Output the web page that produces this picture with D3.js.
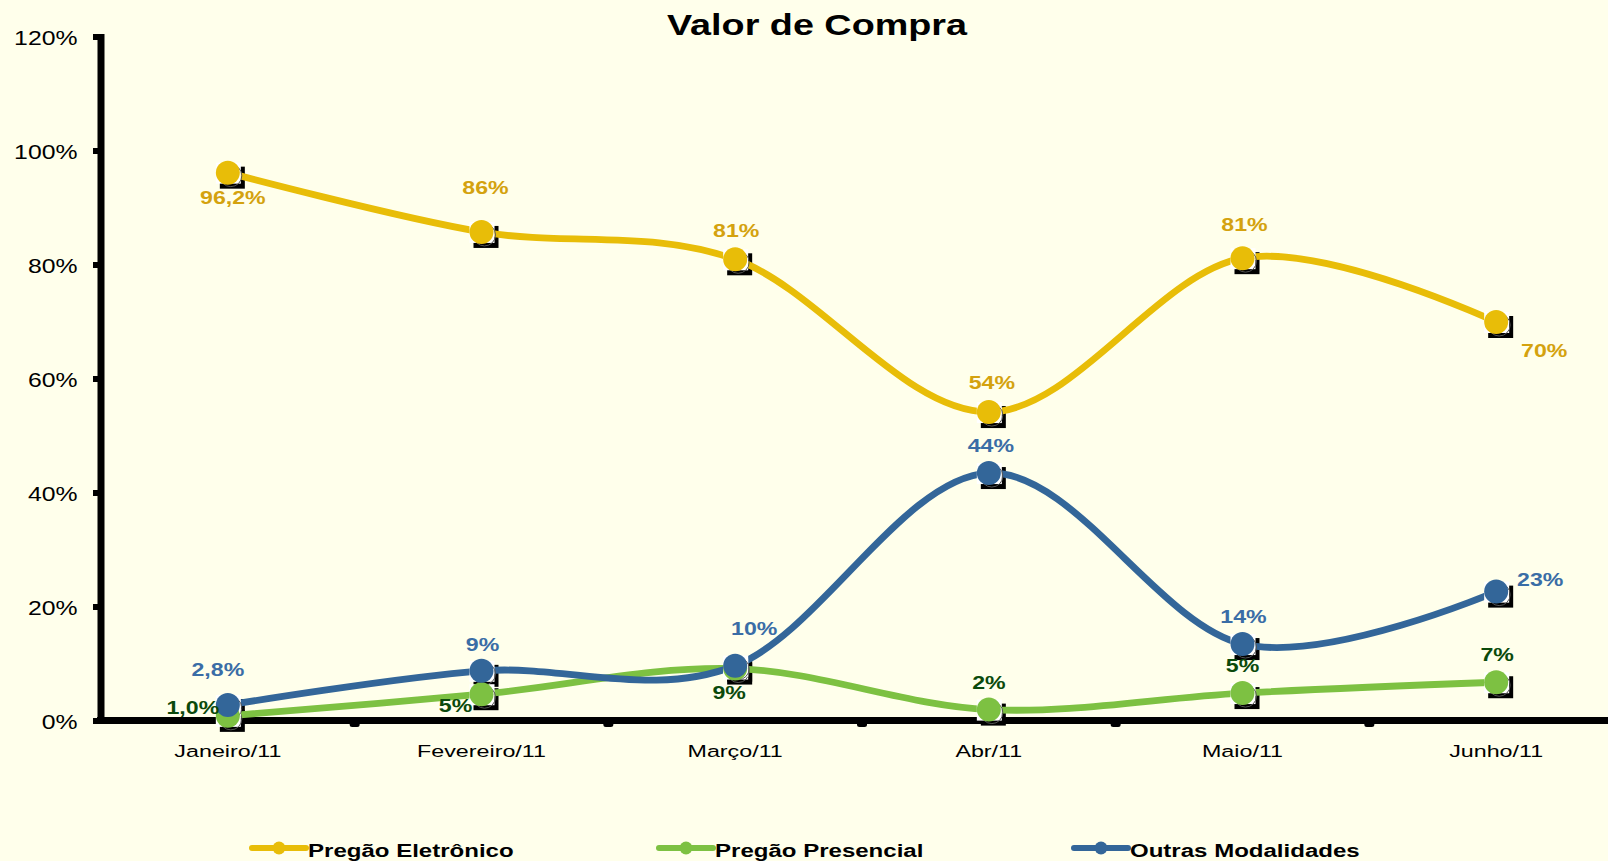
<!DOCTYPE html>
<html><head><meta charset="utf-8">
<script src="https://cdn.jsdelivr.net/npm/d3@7"></script>
<style>html,body{margin:0;padding:0;background:#FFFFEB;overflow:hidden}</style>
</head><body><svg id="c" width="1608" height="861"></svg>
<script>
// ---------- data ----------
const title = "Valor de Compra";
const categories = ["Janeiro/11","Fevereiro/11","Março/11","Abr/11","Maio/11","Junho/11"];
const seriesNames = ["Pregão Eletrônico","Pregão Presencial","Outras Modalidades"];
const eletronico = [96.2, 85.8, 81, 54.2, 81.2, 70];
const presencial = [0.9, 4.7, 9.2, 2.0, 4.9, 6.8];
const outras = [2.8, 8.8, 9.7, 43.5, 13.5, 22.7];
const eletronicoLabels = ["96,2%","86%","81%","54%","81%","70%"];
const presencialLabels = ["1,0%","5%","9%","2%","5%","7%"];
const outrasLabels = ["2,8%","9%","10%","44%","14%","23%"];
const yTicks = [0,20,40,60,80,100,120];

// ---------- layout / style ----------
const FONT = "'Liberation Sans', Arial, sans-serif";
const SX = 1.3; // horizontal text stretch of the original
const colors = {line:["#E8BD08","#7DC142","#336699"], label:["#D4A20E","#0B4A0B","#3A6DA6"]};
const labelOffsets = [
  [[5,25],[4,-44],[1,-29],[3,-30],[2,-34],[48,28]],
  [[-35,-8],[-26,11],[-6,24],[0,-27],[0,-28],[1,-28]],
  [[-10,-36],[1,-26],[19,-37],[2,-28],[1,-28],[44,-12]]
];
const legendX = [252, 659, 1074];

const svg = d3.select("#c");
svg.append("rect").attr("width",1608).attr("height",861).attr("fill","#FFFFEB");

const x = d3.scaleBand().domain(categories).range([101, 1623]);
const y = d3.scaleLinear().domain([0,120]).range([721, 37]);
const cx = c => x(c) + x.bandwidth()/2;

function stext(g, str, px, py, o) {
  return g.append("text")
    .attr("transform", `translate(${px},${py}) scale(${o.sx||SX},1)`)
    .attr("text-anchor", o.anchor||"middle")
    .attr("font-family", FONT)
    .attr("font-size", o.size)
    .attr("font-weight", o.weight||"normal")
    .attr("fill", o.fill||"#000")
    .text(str);
}

// title
stext(svg, title, 817, 35, {size:29.5, weight:"bold", sx:1.28});

// axes
const ax = svg.append("g");
ax.append("line").attr("x1",101).attr("x2",101).attr("y1",y(120)-3).attr("y2",724)
  .attr("stroke","#000").attr("stroke-width",7);
ax.append("line").attr("x1",97).attr("x2",1608).attr("y1",720.5).attr("y2",720.5)
  .attr("stroke","#000").attr("stroke-width",7);
yTicks.forEach(t=>{
  ax.append("rect").attr("x",93).attr("y",y(t)-3).attr("width",8).attr("height",6).attr("fill","#000");
  stext(ax, t+"%", 77.5, y(t)+7.5, {size:20, anchor:"end", sx:1.24});
});
categories.forEach((c,i)=>{
  if(i>0){
    ax.append("rect").attr("x",x(c)-5).attr("y",721).attr("width",10).attr("height",6)
      .attr("rx",2.5).attr("fill","#000");
  }
  stext(ax, c, cx(c), 757, {size:17, sx:1.37});
});

// series
const allSeries = [eletronico, presencial, outras];
const allLabels = [eletronicoLabels, presencialLabels, outrasLabels];
const line = d3.line().x((d,i)=>cx(categories[i])).y(d=>y(d)).curve(d3.curveCardinal.tension(0));

const gShadow = svg.append("g"), gLines = svg.append("g"), gWhite = svg.append("g"),
      gMarks = svg.append("g"), gLabels = svg.append("g");

allSeries.forEach((vals,s)=>{
  gLines.append("path").attr("d", line(vals)).attr("fill","none")
    .attr("stroke", colors.line[s]).attr("stroke-width",6.8).attr("stroke-linecap","round");
  vals.forEach((v,i)=>{
    const px = cx(categories[i]), py = y(v);
    gShadow.append("rect").attr("x",px-8).attr("y",py-6).attr("width",25).attr("height",22).attr("fill","#000");
    gWhite.append("rect").attr("x",px-12).attr("y",py-10).attr("width",25).attr("height",21).attr("fill","#FFFFFF");
    gWhite.append("circle").attr("cx",px+3).attr("cy",py+3).attr("r",11).attr("fill","none")
      .attr("stroke","#555").attr("stroke-width",1);
    gMarks.append("circle").attr("cx",px).attr("cy",py).attr("r",12).attr("fill",colors.line[s]);
    const off = labelOffsets[s][i];
    stext(gLabels, allLabels[s][i], px+off[0], py+off[1]+6.5, {size:18.5, weight:"bold", fill:colors.label[s], sx:1.25});
  });
});

// legend
const lg = svg.append("g");
seriesNames.forEach((n,s)=>{
  const lx = legendX[s];
  lg.append("line").attr("x1",lx).attr("x2",lx+54).attr("y1",848).attr("y2",848)
    .attr("stroke",colors.line[s]).attr("stroke-width",6).attr("stroke-linecap","round");
  lg.append("circle").attr("cx",lx+27).attr("cy",848).attr("r",6.5).attr("fill",colors.line[s]);
  stext(lg, n, lx+56, 857, {size:18.5, weight:"bold", anchor:"start", sx:1.3});
});
</script></body></html>
